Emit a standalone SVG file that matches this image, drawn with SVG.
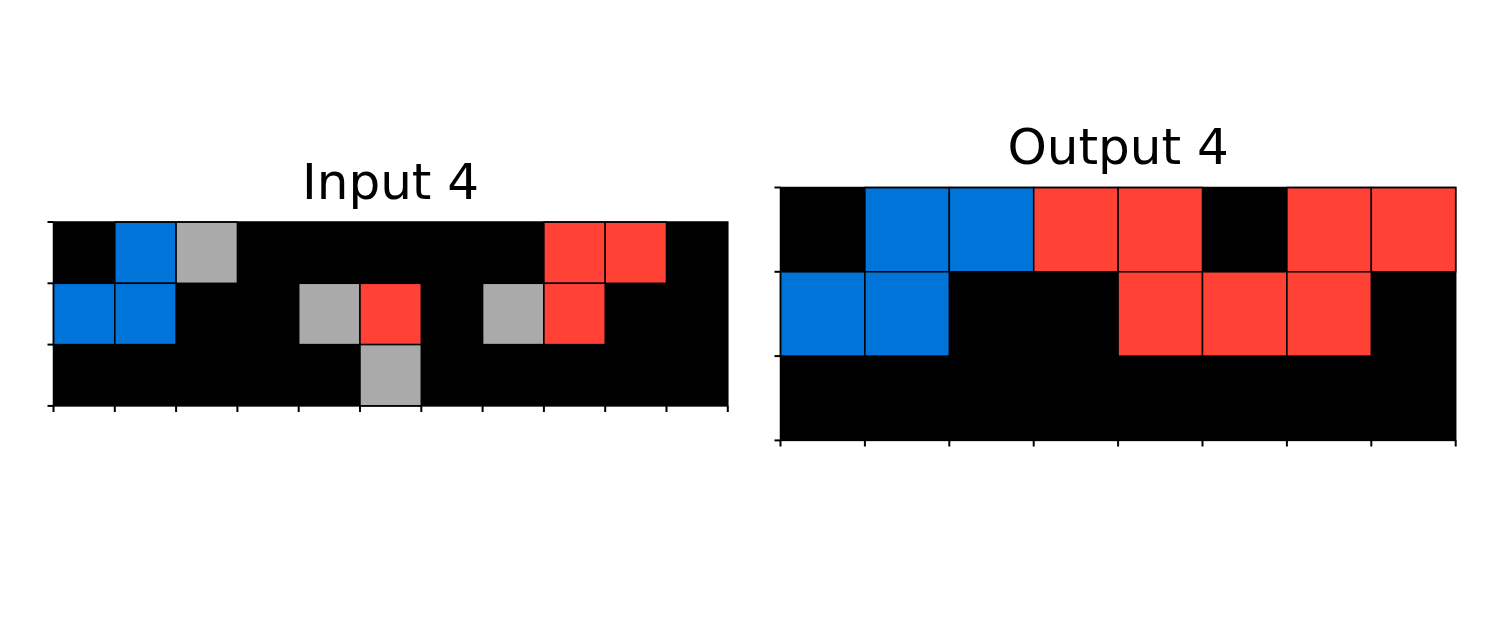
<svg xmlns="http://www.w3.org/2000/svg" width="1500" height="629" viewBox="0 0 1500 629">
<style>
.bg{fill:#000}
.b{fill:#0074D9;stroke:#000;stroke-width:1.5}
.g{fill:#AAAAAA;stroke:#000;stroke-width:1.5}
.r{fill:#FF4136;stroke:#000;stroke-width:1.5}
.frame{fill:none;stroke:#000;stroke-width:1.5}
.tick{stroke:#000;stroke-width:2}
.title{font-family:"DejaVu Sans",sans-serif;font-size:50px;fill:#000;text-anchor:middle}
</style>
<rect width="1500" height="629" fill="#fff"/>
<g id="input">
<text class="title" x="390.6" y="199">Input 4</text>
<rect class="bg" x="53.5" y="222" width="674.3" height="183.9"/>
<rect class="b" x="114.8" y="222" width="61.3" height="61.3"/>
<rect class="g" x="176.1" y="222" width="61.3" height="61.3"/>
<rect class="r" x="543.9" y="222" width="61.3" height="61.3"/>
<rect class="r" x="605.2" y="222" width="61.3" height="61.3"/>
<rect class="b" x="53.5" y="283.3" width="61.3" height="61.3"/>
<rect class="b" x="114.8" y="283.3" width="61.3" height="61.3"/>
<rect class="g" x="298.7" y="283.3" width="61.3" height="61.3"/>
<rect class="r" x="360" y="283.3" width="61.3" height="61.3"/>
<rect class="g" x="482.6" y="283.3" width="61.3" height="61.3"/>
<rect class="r" x="543.9" y="283.3" width="61.3" height="61.3"/>
<rect class="g" x="360" y="344.6" width="61.3" height="61.3"/>
<rect class="frame" x="53.5" y="222" width="674.3" height="183.9"/>
<g class="tick">
<line x1="47.5" y1="222" x2="53.5" y2="222"/>
<line x1="47.5" y1="283.3" x2="53.5" y2="283.3"/>
<line x1="47.5" y1="344.6" x2="53.5" y2="344.6"/>
<line x1="47.5" y1="405.9" x2="53.5" y2="405.9"/>
<line x1="53.5" y1="405.9" x2="53.5" y2="412"/>
<line x1="114.8" y1="405.9" x2="114.8" y2="412"/>
<line x1="176.1" y1="405.9" x2="176.1" y2="412"/>
<line x1="237.4" y1="405.9" x2="237.4" y2="412"/>
<line x1="298.7" y1="405.9" x2="298.7" y2="412"/>
<line x1="360" y1="405.9" x2="360" y2="412"/>
<line x1="421.3" y1="405.9" x2="421.3" y2="412"/>
<line x1="482.6" y1="405.9" x2="482.6" y2="412"/>
<line x1="543.9" y1="405.9" x2="543.9" y2="412"/>
<line x1="605.2" y1="405.9" x2="605.2" y2="412"/>
<line x1="666.5" y1="405.9" x2="666.5" y2="412"/>
<line x1="727.8" y1="405.9" x2="727.8" y2="412"/>
</g>
</g>
<g id="output">
<text class="title" x="1118.1" y="164">Output 4</text>
<rect class="bg" x="780.5" y="187.5" width="675.2" height="252.9"/>
<rect class="b" x="864.9" y="187.5" width="84.4" height="84.3"/>
<rect class="b" x="949.3" y="187.5" width="84.4" height="84.3"/>
<rect class="r" x="1033.7" y="187.5" width="84.4" height="84.3"/>
<rect class="r" x="1118.1" y="187.5" width="84.4" height="84.3"/>
<rect class="r" x="1286.9" y="187.5" width="84.4" height="84.3"/>
<rect class="r" x="1371.3" y="187.5" width="84.4" height="84.3"/>
<rect class="b" x="780.5" y="271.8" width="84.4" height="84.3"/>
<rect class="b" x="864.9" y="271.8" width="84.4" height="84.3"/>
<rect class="r" x="1118.1" y="271.8" width="84.4" height="84.3"/>
<rect class="r" x="1202.5" y="271.8" width="84.4" height="84.3"/>
<rect class="r" x="1286.9" y="271.8" width="84.4" height="84.3"/>
<rect class="frame" x="780.5" y="187.5" width="675.2" height="252.9"/>
<g class="tick">
<line x1="774.5" y1="187.5" x2="780.5" y2="187.5"/>
<line x1="774.5" y1="271.8" x2="780.5" y2="271.8"/>
<line x1="774.5" y1="356.1" x2="780.5" y2="356.1"/>
<line x1="774.5" y1="440.4" x2="780.5" y2="440.4"/>
<line x1="780.5" y1="440.4" x2="780.5" y2="446.5"/>
<line x1="864.9" y1="440.4" x2="864.9" y2="446.5"/>
<line x1="949.3" y1="440.4" x2="949.3" y2="446.5"/>
<line x1="1033.7" y1="440.4" x2="1033.7" y2="446.5"/>
<line x1="1118.1" y1="440.4" x2="1118.1" y2="446.5"/>
<line x1="1202.5" y1="440.4" x2="1202.5" y2="446.5"/>
<line x1="1286.9" y1="440.4" x2="1286.9" y2="446.5"/>
<line x1="1371.3" y1="440.4" x2="1371.3" y2="446.5"/>
<line x1="1455.7" y1="440.4" x2="1455.7" y2="446.5"/>
</g>
</g>
</svg>
